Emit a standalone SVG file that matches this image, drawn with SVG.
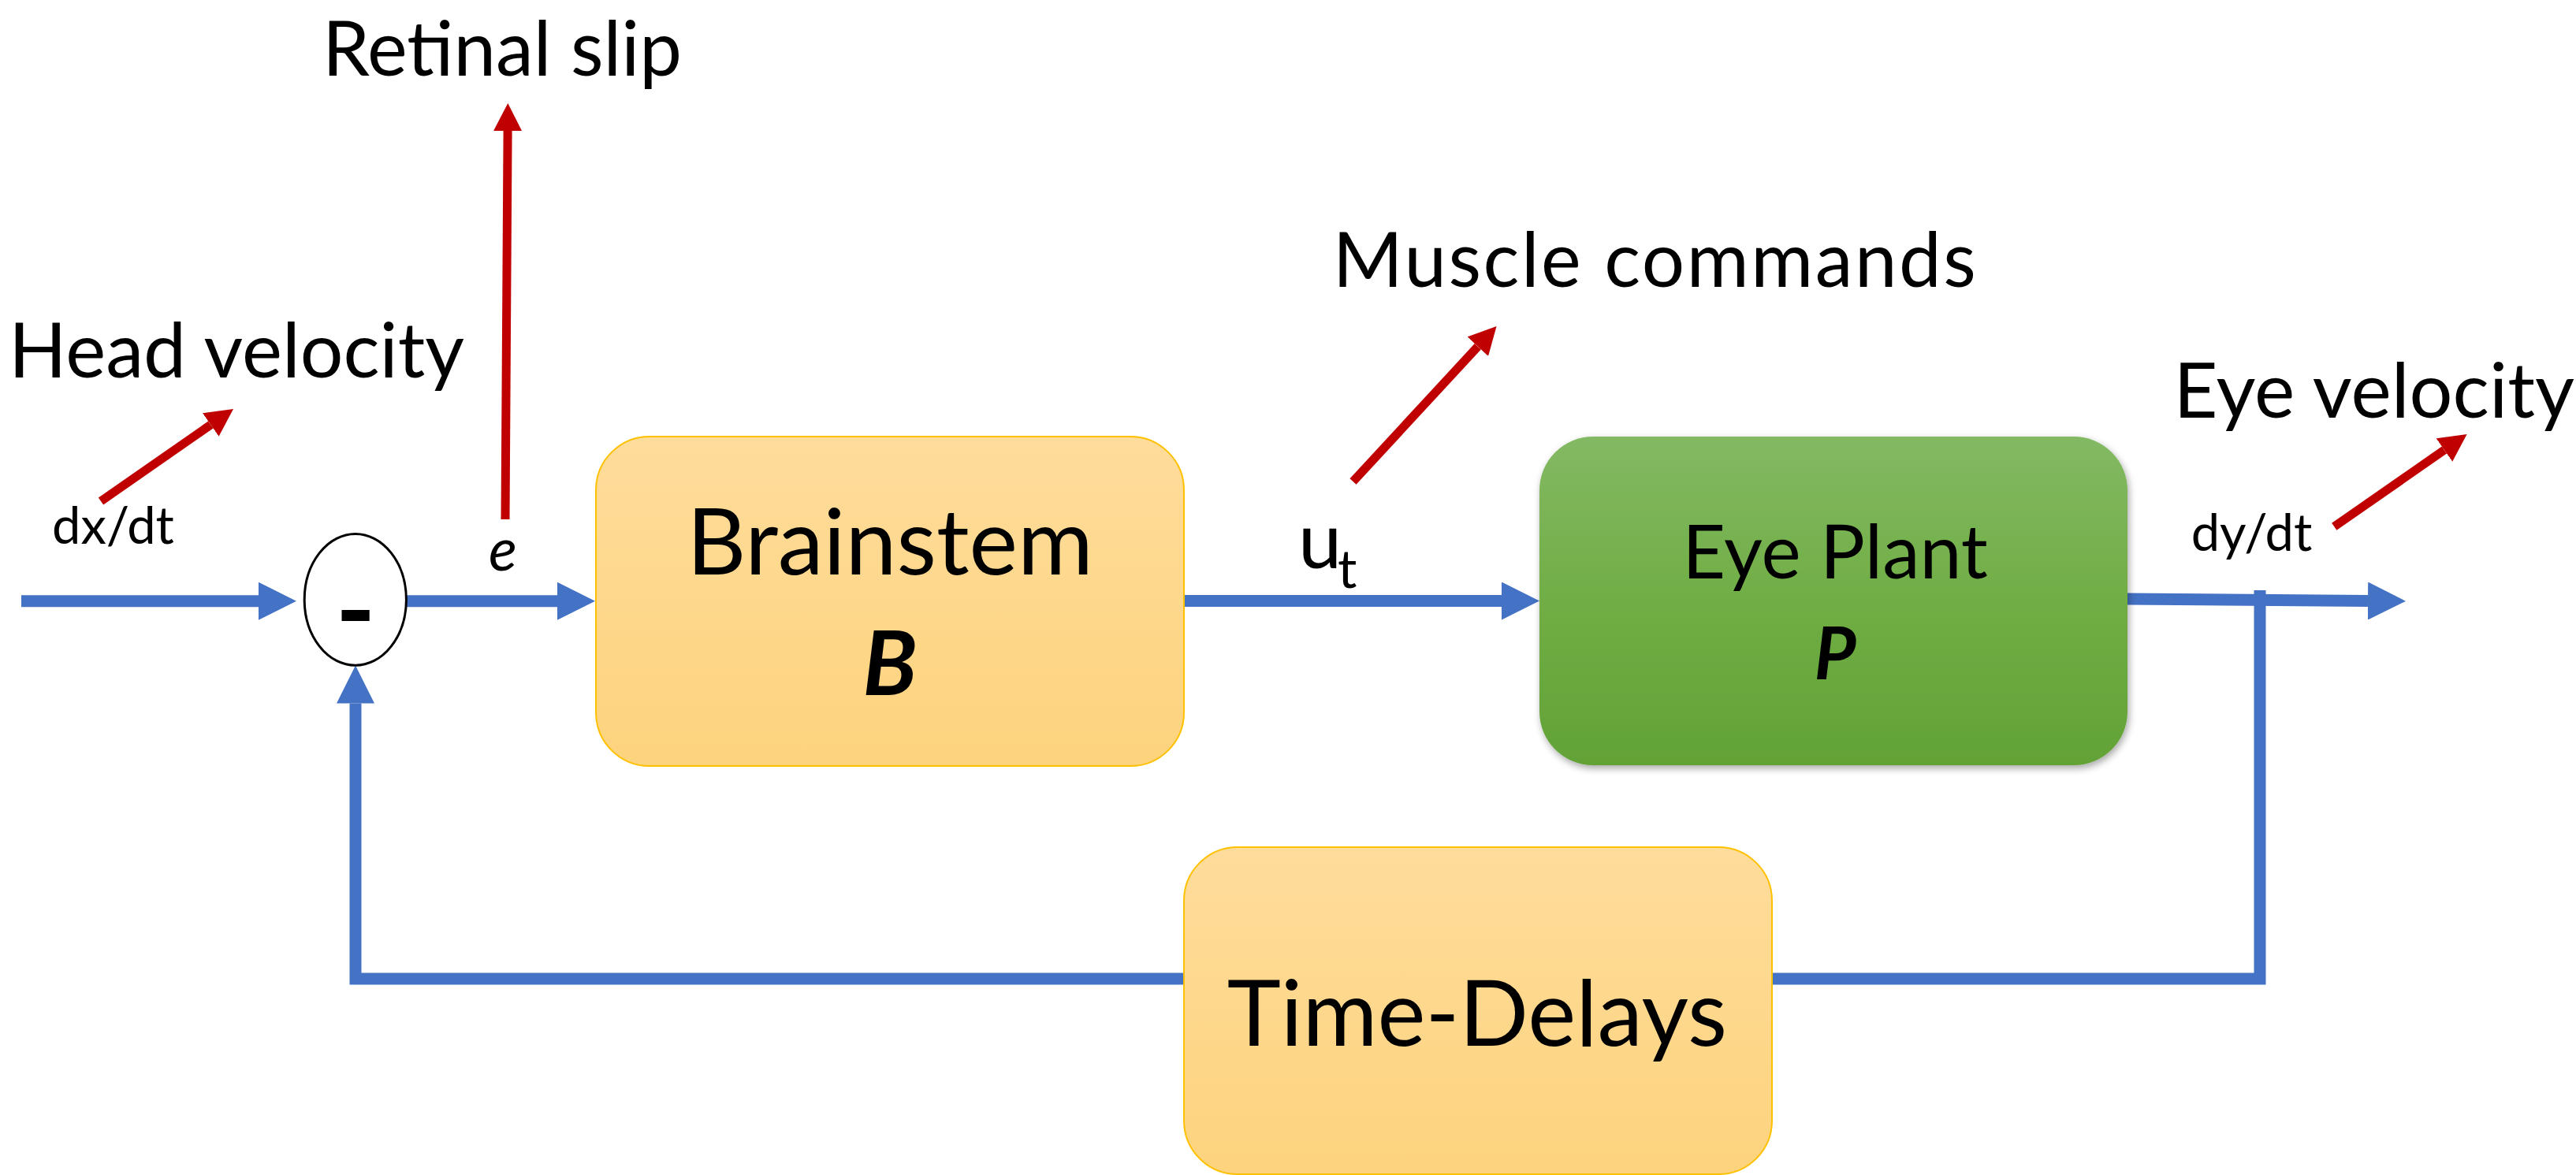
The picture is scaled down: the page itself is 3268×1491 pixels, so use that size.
<svg xmlns="http://www.w3.org/2000/svg" width="3268" height="1491" viewBox="0 0 3268 1491">
<defs>
<linearGradient id="gOrange" x1="0" y1="0" x2="0" y2="1">
<stop offset="0" stop-color="#FEDC9B"/>
<stop offset="1" stop-color="#FDD37D"/>
</linearGradient>
<linearGradient id="gGreen" x1="0" y1="0" x2="0" y2="1">
<stop offset="0" stop-color="#83B964"/>
<stop offset="0.5" stop-color="#70AE45"/>
<stop offset="1" stop-color="#62A236"/>
</linearGradient>
<filter id="shadow" x="-10%" y="-10%" width="120%" height="125%">
<feDropShadow dx="2" dy="4" stdDeviation="5" flood-color="#000" flood-opacity="0.35"/>
</filter>
<marker id="ahBlue" viewBox="0 0 48 48" refX="0" refY="24" markerWidth="48" markerHeight="48" markerUnits="userSpaceOnUse" orient="auto">
<path d="M0,0 L48,24 L0,48 Z" fill="#4472C4"/>
</marker>
<marker id="ahRed" viewBox="0 0 35 36" refX="0" refY="18" markerWidth="35" markerHeight="36" markerUnits="userSpaceOnUse" orient="auto">
<path d="M0,0 L35,18 L0,36 Z" fill="#C00000"/>
</marker>
</defs>
<style>
.blue{fill:none;stroke:#4472C4;stroke-width:15;}
.red{fill:none;stroke:#C00000;stroke-width:11;}
.t{font-family:Lato,"Liberation Sans",sans-serif;fill:#000;}
.box{stroke:#FFC000;stroke-width:2;fill:url(#gOrange);}
</style>
<rect width="3268" height="1491" fill="#fff"/>

<g id="connectors">
<path class="blue" d="M27,762.7 H328" marker-end="url(#ahBlue)"/>
<path class="blue" d="M515,762.7 H707" marker-end="url(#ahBlue)"/>
<path class="blue" d="M1502,762.5 H1905" marker-end="url(#ahBlue)"/>
<path class="blue" d="M2698,760 L3004,762.5" marker-end="url(#ahBlue)"/>
<path class="blue" d="M2867,749 V1242 H2248"/>
<path class="blue" d="M1502,1242 H451 V892.5" marker-end="url(#ahBlue)" stroke-linejoin="miter"/>
<path class="red" d="M128,636 L267.3,539" marker-end="url(#ahRed)"/>
<path class="red" d="M641,659 L644.1,166" marker-end="url(#ahRed)"/>
<path class="red" d="M1716.5,611 L1874.8,439.7" marker-end="url(#ahRed)"/>
<path class="red" d="M2961.3,668.3 L3100.9,571" marker-end="url(#ahRed)"/>
</g>

<g id="sum">
<ellipse cx="450.8" cy="760.9" rx="64.6" ry="83.4" fill="#fff" stroke="#000" stroke-width="3"/>
<text class="t" x="451" y="822" font-size="136" font-weight="bold" text-anchor="middle">-</text>
</g>

<g id="brainstem">
<rect class="box" x="756" y="554" width="746" height="418" rx="68" ry="68"/>
<text class="t" x="1129" y="729" font-size="116.5" text-anchor="middle">Brainstem</text>
<text class="t" x="1129" y="882" font-size="113" font-weight="bold" font-style="italic" text-anchor="middle">B</text>
</g>

<g id="eyeplant">
<rect x="1953" y="554" width="746" height="417" rx="68" ry="68" fill="url(#gGreen)" filter="url(#shadow)"/>
<text class="t" x="2328" y="734" font-size="95" text-anchor="middle">Eye Plant</text>
<text class="t" x="2328" y="862" font-size="91.5" font-weight="bold" font-style="italic" text-anchor="middle">P</text>
</g>

<g id="timedelays">
<rect class="box" x="1502" y="1075" width="746" height="415" rx="68" ry="68"/>
<text class="t" x="1874" y="1327" font-size="115.5" text-anchor="middle">Time-Delays</text>
</g>

<g id="labels">
<text class="t" x="300" y="479" font-size="96.5" text-anchor="middle">Head velocity</text>
<text class="t" x="637" y="96" font-size="96" text-anchor="middle">Retinal slip</text>
<text class="t" x="2100" y="364" font-size="96" letter-spacing="2.5" text-anchor="middle">Muscle commands</text>
<text class="t" x="3266" y="530" font-size="97" text-anchor="end">Eye velocity</text>
<text class="t" x="143.5" y="690" font-size="65" text-anchor="middle">dx/dt</text>
<text class="t" x="2856.5" y="699" font-size="65" text-anchor="middle">dy/dt</text>
<text class="t" x="638" y="724" font-size="75" font-style="italic" text-anchor="middle">e</text>
<text class="t" x="1647" y="721" font-size="99">u<tspan x="1697" y="746" font-size="68">t</tspan></text>
</g>
</svg>
